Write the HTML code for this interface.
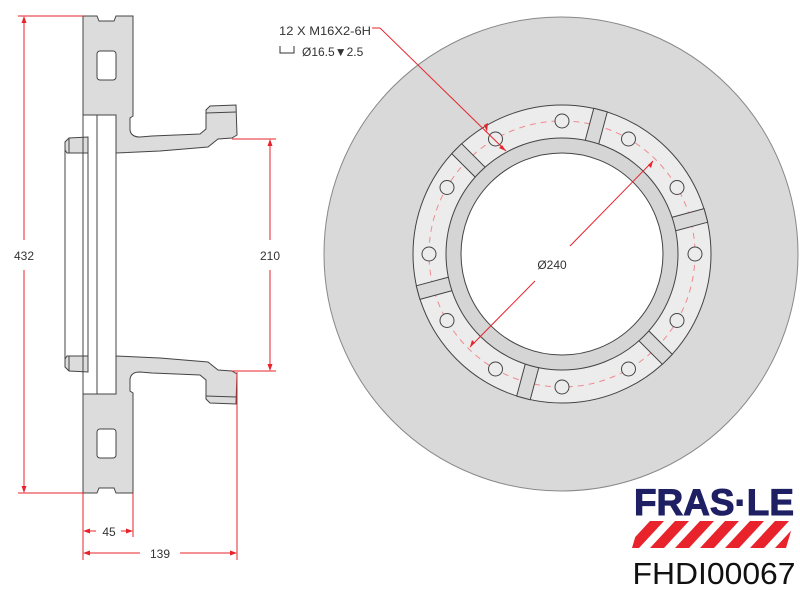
<!DOCTYPE html>
<html><head><style>
body{margin:0;background:#fff;}
svg{display:block;font-family:"Liberation Sans","DejaVu Sans",sans-serif;}
</style></head><body>
<svg width="800" height="590" viewBox="0 0 800 590" xmlns="http://www.w3.org/2000/svg">
<defs>
<clipPath id="cp"><rect x="0" y="0" width="800" height="590"/></clipPath>
<g id="half">
  <path d="M83,16 L97,16 L99,21 L114,21 L116,16 L133,16 L133,116 L130,118 L130,130 Q131,137 140,137 L152,136 L200,134 L206,129 L206,110 L210,106 L236,105 L237,135 L232,138 L218,139 L208,147 L160,151 L116,153 L116,115 L83,115 Z" fill="#dcdcdc" stroke="#444" stroke-width="1"/>
  <rect x="97" y="51" width="19" height="29" rx="3" fill="#fff" stroke="#444"/>
  <path d="M206,113 L236,112" stroke="#444" fill="none"/>
  <path d="M65,142 L69,138 L88,137 L88,153 L67,153 L65,150 Z" fill="#dcdcdc" stroke="#444"/>
  <line x1="69" y1="138" x2="69" y2="153" stroke="#444"/>
</g>
</defs>
<use href="#half"/>
<use href="#half" transform="translate(0,509) scale(1,-1)"/>
<line x1="65" y1="150" x2="65" y2="359" stroke="#444"/>
<line x1="88" y1="150" x2="88" y2="359" stroke="#444"/>
<line x1="83" y1="115" x2="83" y2="394" stroke="#444"/>
<line x1="97" y1="115" x2="97" y2="394" stroke="#444"/>
<line x1="116" y1="150" x2="116" y2="359" stroke="#444"/>
<g stroke="#e8232b" stroke-width="1" fill="none">
  <line x1="18" y1="16" x2="83" y2="16"/>
  <line x1="18" y1="493" x2="83" y2="493"/>
  <line x1="24" y1="18" x2="24" y2="240"/>
  <line x1="24" y1="270" x2="24" y2="491"/>
  <line x1="232" y1="139" x2="276" y2="139"/>
  <line x1="232" y1="371" x2="276" y2="371"/>
  <line x1="270" y1="141" x2="270" y2="240"/>
  <line x1="270" y1="270" x2="270" y2="369"/>
  <line x1="83" y1="493" x2="83" y2="560"/>
  <line x1="133" y1="493" x2="133" y2="537"/>
  <line x1="237" y1="372" x2="237" y2="560"/>
  <line x1="85" y1="531" x2="96" y2="531"/>
  <line x1="121" y1="531" x2="131" y2="531"/>
  <line x1="85" y1="553" x2="140" y2="553"/>
  <line x1="180" y1="553" x2="235" y2="553"/>
</g>
<g fill="#e8232b">
  <path d="M24,16 l-2.5,7 h5z"/><path d="M24,493 l-2.5,-7 h5z"/>
  <path d="M270,139 l-2.5,7 h5z"/><path d="M270,371 l-2.5,-7 h5z"/>
  <path d="M83,531 l7,-2.5 v5z"/><path d="M133,531 l-7,-2.5 v5z"/>
  <path d="M83,553 l7,-2.5 v5z"/><path d="M237,553 l-7,-2.5 v5z"/>
</g>
<g font-size="12" fill="#333" text-anchor="middle">
  <text x="24" y="260">432</text>
  <text x="270" y="260">210</text>
  <text x="109" y="536">45</text>
  <text x="160" y="558">139</text>
</g>
<g clip-path="url(#cp)">
<circle cx="561" cy="254" r="237" fill="#d9d9d9" stroke="#888" stroke-width="1"/>
</g>
<circle cx="562" cy="254" r="149" fill="#ececec" stroke="#444"/>
<circle cx="562" cy="254" r="133" fill="none" stroke="#f08a8f" stroke-width="1" stroke-dasharray="6,5"/>
<g stroke="#444" fill="#d9d9d9">
  <g transform="rotate(-75 562 254)"><rect x="677" y="247" width="34" height="14"/></g>
  <g transform="rotate(-135 562 254)"><rect x="677" y="247" width="34" height="14"/></g>
  <g transform="rotate(-195 562 254)"><rect x="677" y="247" width="34" height="14"/></g>
  <g transform="rotate(-255 562 254)"><rect x="677" y="247" width="34" height="14"/></g>
  <g transform="rotate(-315 562 254)"><rect x="677" y="247" width="34" height="14"/></g>
  <g transform="rotate(-15 562 254)"><rect x="677" y="247" width="34" height="14"/></g>
</g>
<g fill="#ececec" stroke="#444">
  <circle cx="695" cy="254" r="7"/><circle cx="677" cy="320.5" r="7"/><circle cx="628.5" cy="369" r="7"/>
  <circle cx="562" cy="387" r="7"/><circle cx="495.5" cy="369" r="7"/><circle cx="447" cy="320.5" r="7"/>
  <circle cx="429" cy="254" r="7"/><circle cx="447" cy="187.5" r="7"/><circle cx="495.5" cy="139" r="7"/>
  <circle cx="562" cy="121" r="7"/><circle cx="628.5" cy="139" r="7"/><circle cx="677" cy="187.5" r="7"/>
</g>
<circle cx="562" cy="254" r="116" fill="#d5d5d5" stroke="#444"/>
<circle cx="562" cy="254" r="101" fill="#fff" stroke="#444"/>
<g stroke="#e8232b" fill="none">
  <line x1="470" y1="347" x2="535" y2="281"/>
  <line x1="570" y1="246" x2="653" y2="161"/>
  <line x1="380" y1="28" x2="506" y2="151"/>
  <line x1="372" y1="28" x2="380" y2="28"/>
</g>
<g fill="#e8232b">
  <path d="M470,347 l2,-7 l3,3z"/><path d="M653,161 l-2,7 l-3,-3z"/>
  <path d="M487,132 l-3,-7 l4,-2z"/><path d="M506,151 l-7,-3 l3,-3z"/>
</g>
<text x="552" y="269" font-size="12" fill="#333" text-anchor="middle">Ø240</text>
<g font-size="12" fill="#333">
  <text x="279" y="35" textLength="92" lengthAdjust="spacingAndGlyphs">12 X M16X2-6H</text>
  <text x="302" y="56">Ø16.5▼2.5</text>
</g>
<path d="M280,46 L280,53 L294,53 L294,46" stroke="#333" fill="none"/>
<text x="714" y="515" font-size="37" font-weight="bold" fill="#1f1f63" text-anchor="middle" textLength="160" lengthAdjust="spacingAndGlyphs" stroke="#1f1f63" stroke-width="1">FRAS·LE</text>
<clipPath id="lc"><path d="M640,521 L794,521 L786,548 L632,548 Z"/></clipPath>
<g clip-path="url(#lc)">
  <g fill="#e8232b">
    <path d="M625,548 L650,521 L664,521 L639,548Z"/><path d="M650,548 L675,521 L689,521 L664,548Z"/>
    <path d="M675,548 L700,521 L714,521 L689,548Z"/><path d="M700,548 L725,521 L739,521 L714,548Z"/>
    <path d="M725,548 L750,521 L764,521 L739,548Z"/><path d="M750,548 L775,521 L789,521 L764,548Z"/>
    <path d="M775,548 L800,521 L814,521 L789,548Z"/>
  </g>
</g>
<text x="714" y="584" font-size="31" fill="#111" text-anchor="middle" textLength="163" lengthAdjust="spacingAndGlyphs">FHDI00067</text>
</svg>
</body></html>
